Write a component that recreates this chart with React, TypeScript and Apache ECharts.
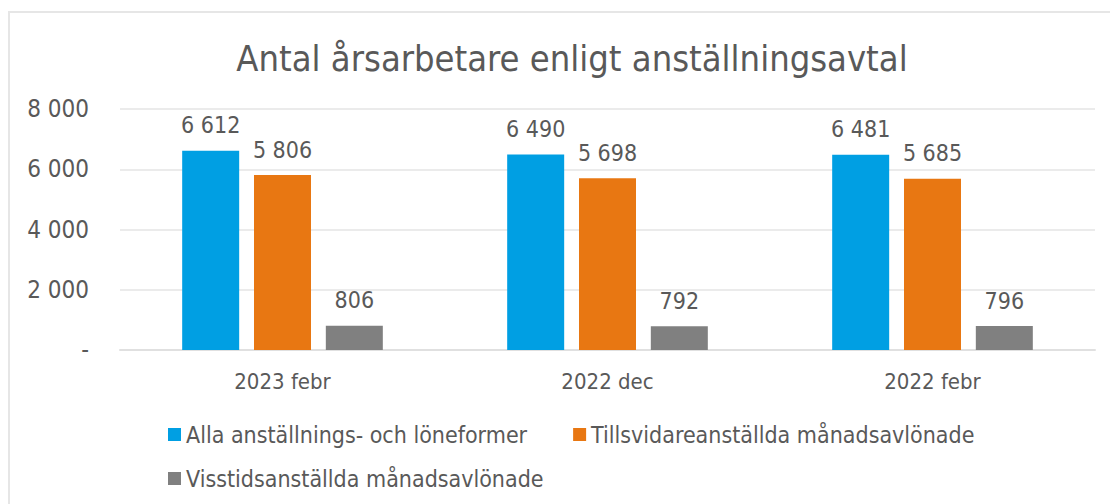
import React, { useEffect, useRef } from "react";
import * as echarts from "echarts";

const title = "Antal årsarbetare enligt anställningsavtal";
const categories = ["2023 febr", "2022 dec", "2022 febr"];
const seriesNames = [
  "Alla anställnings- och löneformer",
  "Tillsvidareanställda månadsavlönade",
  "Visstidsanställda månadsavlönade",
];
const allaValues = [6612, 6490, 6481];
const tillsvidareValues = [5806, 5698, 5685];
const visstidValues = [806, 792, 796];
const colors = ["#009FE3", "#E87712", "#808080"];

const FONT = "'DejaVu Sans Condensed', Tahoma, 'DejaVu Sans', sans-serif";
const TXT = "#595959";

function fmt(v: number): string {
  if (v === 0) return "-";
  return String(Math.round(v)).replace(/\B(?=(\d{3})+(?!\d))/g, " ");
}

export default function App() {
  const ref = useRef<HTMLDivElement>(null);
  useEffect(() => {
    document.body.style.margin = "0";
    const chart = echarts.init(ref.current!, null, { renderer: "svg" });
    const values = [allaValues, tillsvidareValues, visstidValues];
    chart.setOption({
      animation: false,
      textStyle: { fontFamily: FONT },
      title: {
        text: title,
        left: 567,
        top: 35,
        textAlign: "center",
        textStyle: { fontFamily: FONT, fontSize: 36, fontWeight: "normal", color: TXT },
      },
      graphic: [
        {
          type: "rect",
          shape: { x: 9, y: 12, width: 1200, height: 600 },
          style: { fill: "none", stroke: "#e6e6e6", lineWidth: 2 },
          silent: true,
        },
      ],
      legend: [
        {
          data: [seriesNames[0], seriesNames[1]],
          left: 163,
          top: 418,
          itemWidth: 13,
          itemHeight: 13,
          itemGap: 46,
          icon: "rect",
          textStyle: { fontFamily: FONT, fontSize: 23, color: TXT },
        },
        {
          data: [seriesNames[2]],
          left: 163,
          top: 462,
          itemWidth: 13,
          itemHeight: 13,
          icon: "rect",
          textStyle: { fontFamily: FONT, fontSize: 23, color: TXT },
        },
      ],
      grid: { left: 120, right: 15, top: 109, bottom: 154, containLabel: false },
      xAxis: {
        type: "category",
        data: categories,
        axisLine: { lineStyle: { color: "#e0e0e0", width: 2 } },
        axisTick: { show: false },
        axisLabel: { fontFamily: FONT, fontSize: 22, color: TXT, margin: 20 },
      },
      yAxis: {
        type: "value",
        min: 0,
        max: 8000,
        interval: 2000,
        axisLine: { show: false },
        axisTick: { show: false },
        splitLine: { lineStyle: { color: "#ebebeb", width: 2 } },
        axisLabel: {
          fontFamily: FONT,
          fontSize: 24,
          color: TXT,
          margin: 31,
          formatter: (v: number) => fmt(v),
        },
      },
      series: values.map((vals, i) => ({
        type: "bar",
        name: seriesNames[i],
        data: vals,
        barWidth: 57,
        barGap: "26%",
        itemStyle: { color: colors[i] },
        label: {
          show: true,
          position: "top",
          distance: 14,
          fontFamily: FONT,
          fontSize: 23,
          color: TXT,
          formatter: (p: any) => fmt(p.value),
        },
      })),
    });
    return () => chart.dispose();
  }, []);
  return <div ref={ref} style={{ width: 1110, height: 504 }} />;
}
